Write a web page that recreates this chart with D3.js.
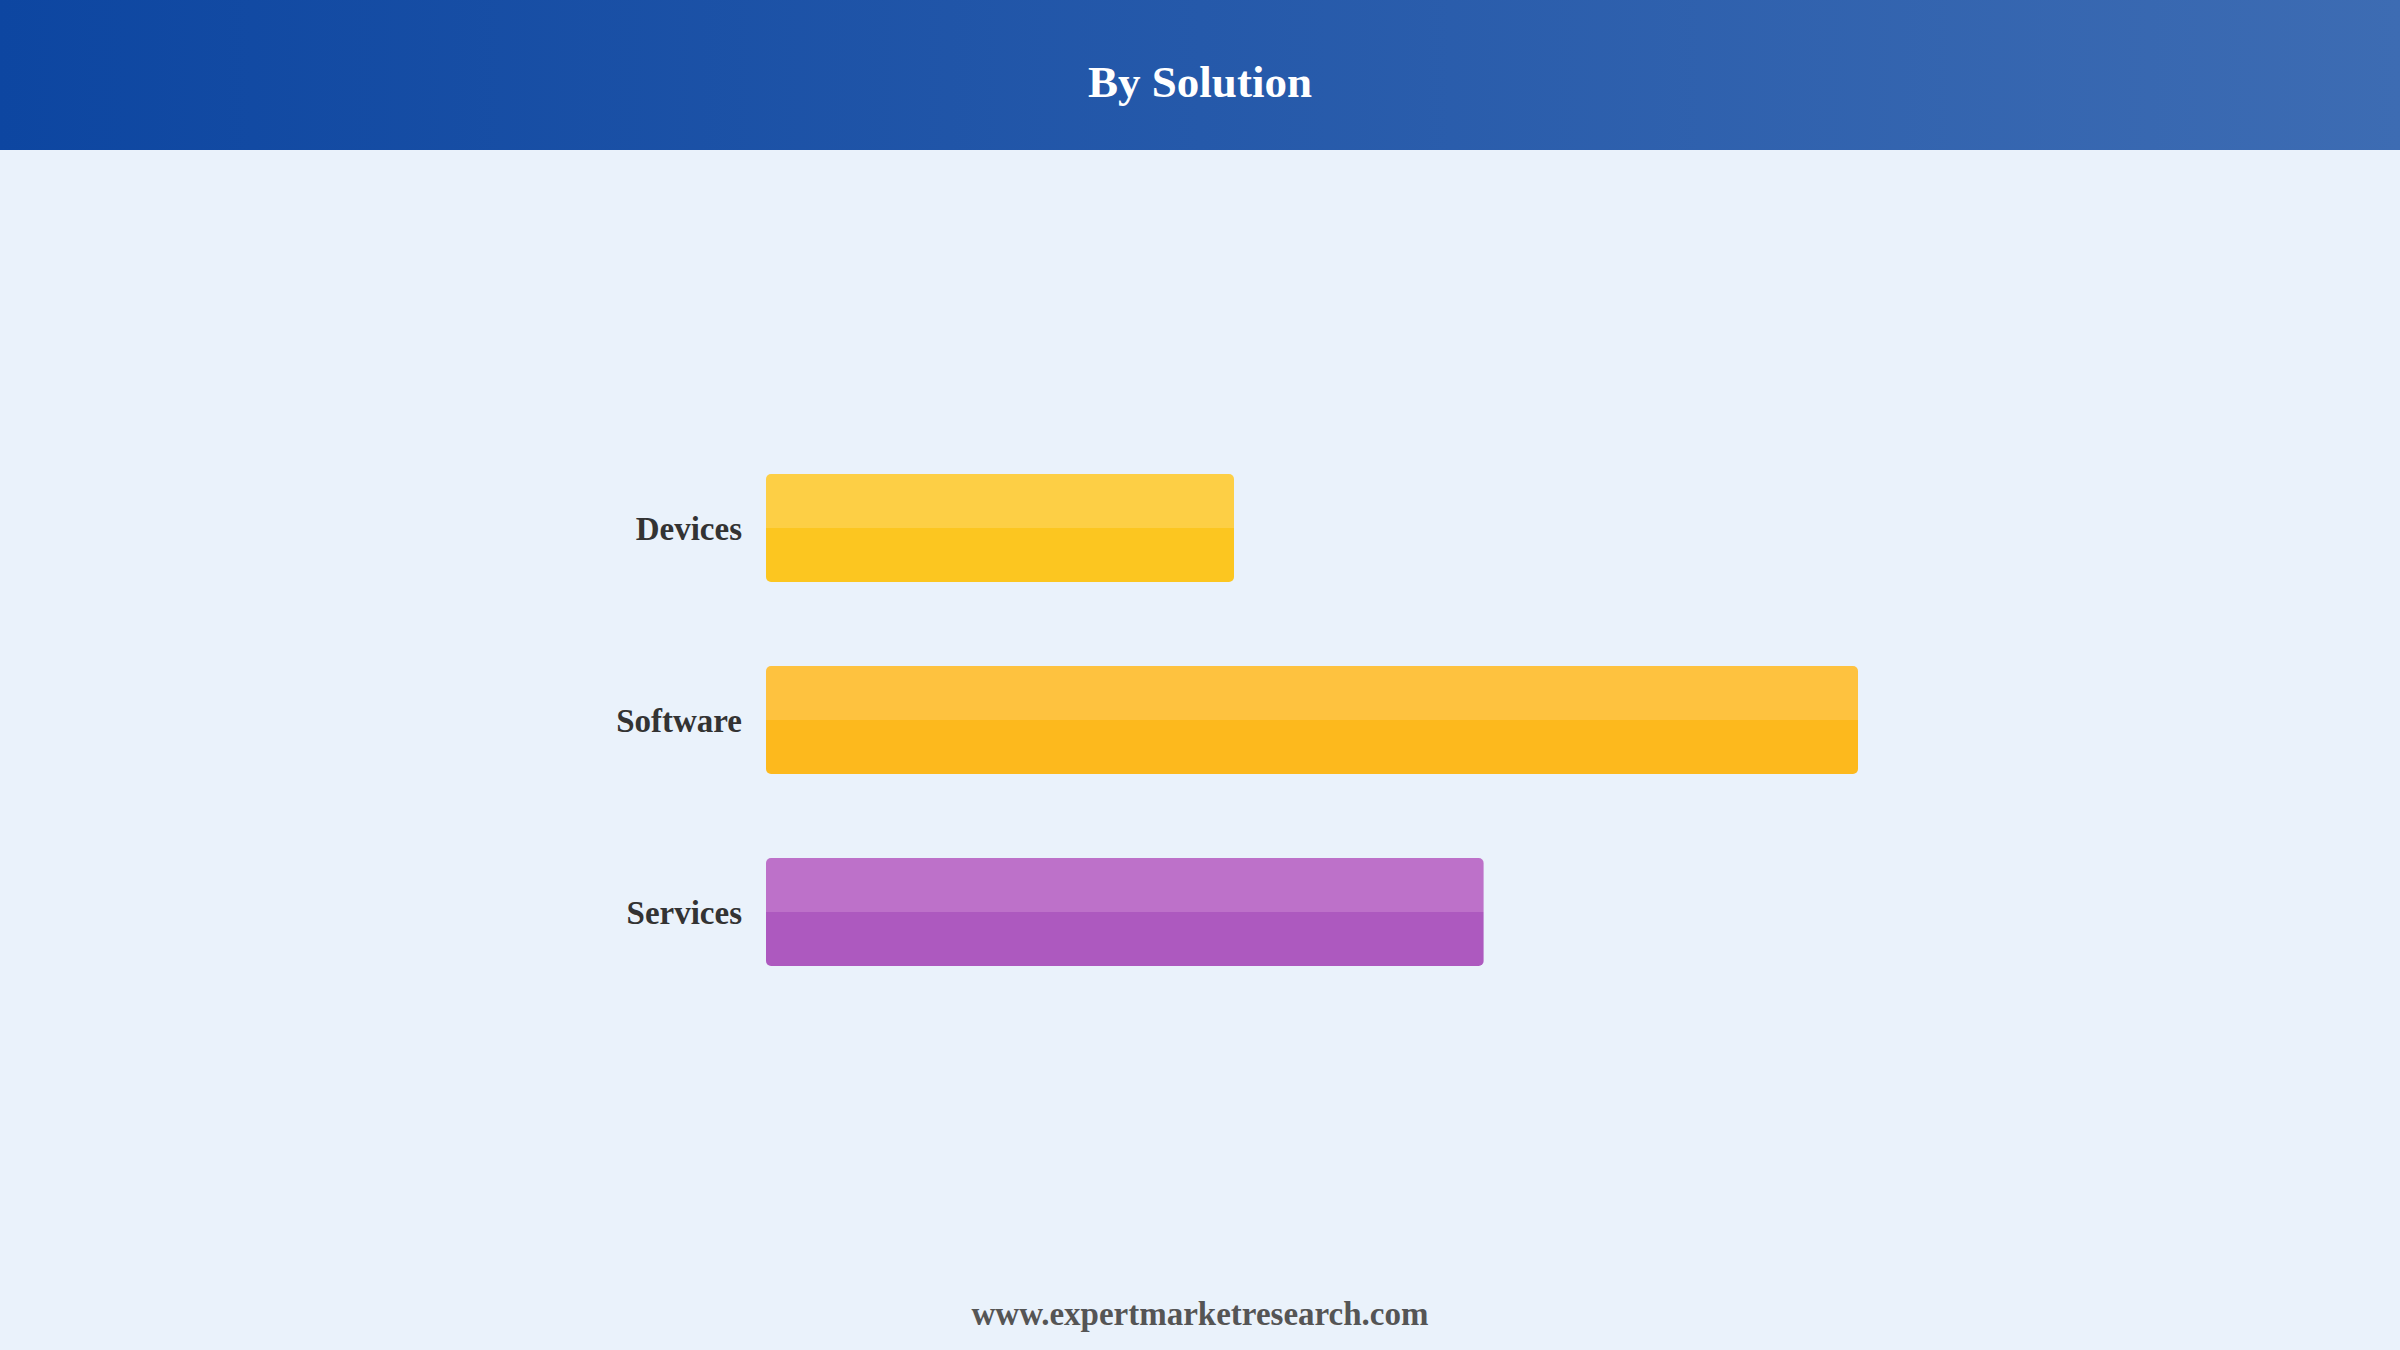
<!DOCTYPE html>
<html>
<head>
<meta charset="utf-8">
<script src="https://cdn.jsdelivr.net/npm/d3@7"></script>
<style>
  html, body { margin: 0; padding: 0; background: #eaf2fb; }
  svg { display: block; }
</style>
</head>
<body>
<div id="chart"></div>
<script>
// chart data
var categories = ["Devices", "Software", "Services"];
var values     = [30, 70, 46];
var topColors  = ["#fdcf45", "#fec23f", "#bd71c9"];
var baseColors = ["#fcc620", "#fdb91d", "#ad59bf"];

var W = 2400, H = 1350;

var svg = d3.select("#chart").append("svg")
    .attr("width", W).attr("height", H);

var defs = svg.append("defs");

// header gradient
var hg = defs.append("linearGradient").attr("id", "hdr")
    .attr("x1", "0%").attr("x2", "100%").attr("y1", "0%").attr("y2", "0%");
hg.append("stop").attr("offset", "0%").attr("stop-color", "#0d46a1");
hg.append("stop").attr("offset", "100%").attr("stop-color", "#3d6cb3");

// two-tone bar fills, light upper half
categories.forEach(function(c, i) {
    var g = defs.append("linearGradient").attr("id", "bar" + i)
        .attr("x1", "0%").attr("x2", "0%").attr("y1", "0%").attr("y2", "100%");
    g.append("stop").attr("offset", "0%").attr("stop-color", topColors[i]);
    g.append("stop").attr("offset", "50%").attr("stop-color", topColors[i]);
    g.append("stop").attr("offset", "50%").attr("stop-color", baseColors[i]);
    g.append("stop").attr("offset", "100%").attr("stop-color", baseColors[i]);
});

svg.append("rect").attr("width", W).attr("height", H).attr("fill", "#eaf2fb");
svg.append("rect").attr("width", W).attr("height", 150).attr("fill", "url(#hdr)");

svg.append("text")
    .attr("x", W / 2).attr("y", 97)
    .attr("text-anchor", "middle")
    .attr("font-family", "'Liberation Serif', 'Times New Roman', serif")
    .attr("font-weight", "bold")
    .attr("font-size", 45)
    .attr("fill", "#ffffff")
    .text("By Solution");

// scales
var left = 766, maxW = 1092;
var x = d3.scaleLinear().domain([0, d3.max(values)]).range([0, maxW]);
var y = d3.scaleBand().domain(categories)
    .range([432, 1008])
    .paddingInner(84 / 192)
    .paddingOuter(84 / 384);

var g = svg.append("g").attr("transform", "translate(" + left + ",0)");

g.selectAll(".bar").data(categories).enter()
    .append("rect")
    .attr("class", "bar")
    .attr("x", 0)
    .attr("y", function(d) { return y(d); })
    .attr("width", function(d, i) { return x(values[i]); })
    .attr("height", y.bandwidth())
    .attr("rx", 5).attr("ry", 5)
    .attr("fill", function(d, i) { return "url(#bar" + i + ")"; });

g.selectAll(".lbl").data(categories).enter()
    .append("text")
    .attr("class", "lbl")
    .attr("x", -24)
    .attr("y", function(d) { return y(d) + y.bandwidth() / 2; })
    .attr("dy", "0.35em")
    .attr("text-anchor", "end")
    .attr("font-family", "'Liberation Serif', 'Times New Roman', serif")
    .attr("font-weight", "bold")
    .attr("font-size", 33)
    .attr("fill", "#333333")
    .text(function(d) { return d; });

svg.append("text")
    .attr("x", W / 2).attr("y", 1325)
    .attr("text-anchor", "middle")
    .attr("font-family", "'Liberation Serif', 'Times New Roman', serif")
    .attr("font-weight", "bold")
    .attr("font-size", 33)
    .attr("fill", "#555555")
    .text("www.expertmarketresearch.com");
</script>
</body>
</html>
